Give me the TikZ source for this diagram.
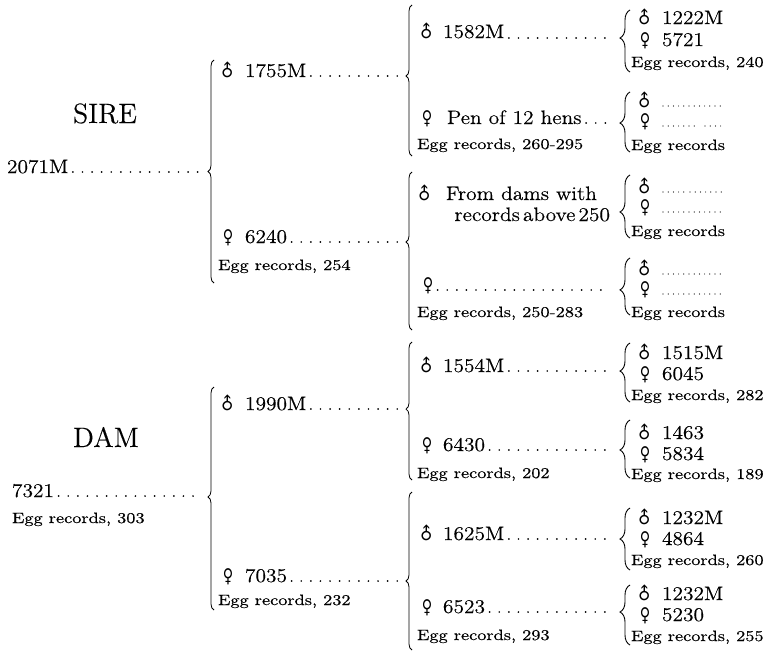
\documentclass[tikz,border=0pt]{standalone}
\usepackage{fontspec}
\usetikzlibrary{decorations.pathreplacing}
\newfontfamily\numf[FakeStretch=1.1,FakeBold=0.3]{lmroman12-regular.otf}
\newfontfamily\eggf[FakeStretch=1.22,FakeBold=0.4]{lmroman10-regular.otf}
\newfontfamily\bigf[FakeBold=0.2]{lmroman12-regular.otf}
\newfontfamily\symf{DejaVu Sans}
\newcommand\MS{\makebox[10pt][c]{\smash{\symf\fontsize{17pt}{17pt}\selectfont\rotatebox[origin=c]{45}{♂}}}}
\newcommand\FS{\makebox[10pt][c]{\smash{\symf\fontsize{19pt}{19pt}\selectfont\scalebox{0.75}[1]{♀}}}}
\tikzset{
  lbl/.style={anchor=base west, inner sep=0pt, outer sep=0pt},
  num/.style={lbl, font=\numf\fontsize{19.5pt}{21pt}\selectfont},
  egg/.style={lbl, font=\eggf\fontsize{15pt}{16pt}\selectfont},
  title/.style={lbl, font=\bigf\fontsize{28pt}{30pt}\selectfont},
  leader/.style={line width=1.9pt, line cap=round, dash pattern=on 0pt off 9.6pt, dash phase=5pt},
  fine/.style={line width=1.2pt, line cap=round, dash pattern=on 0pt off 5.2pt},
  bbrace/.style={decorate, decoration={brace, amplitude=6pt, aspect=#1}, line width=0.8pt},
  bbrace/.default=0.5,
  sbrace/.style={decorate, decoration={brace, amplitude=10pt, aspect=#1}, line width=0.9pt},
  sbrace/.default=0.5,
}
\begin{document}
\begin{tikzpicture}[x=1pt,y=-1pt]
\path[use as bounding box] (0,0) rectangle (768,653);

% ---------- level 0 ----------
\node[title] (sire) at (73,123) {SIRE};
\node[num] (n2071) at (7,173) {2071M};
\node[title] (dam) at (73,447) {DAM};
\node[num] (n7321) at (12,497) {7321};
\node[egg] (e303) at (12,523) {Egg records, 303};

\draw[bbrace=0.5] (214,283) -- (214,60);
\coordinate (tS) at (208,172);
\draw[bbrace=0.507] (214,610) -- (214,387);
\coordinate (tD) at (208,496);
\draw[leader] (n2071.east |- tS) -- ([xshift=-6pt]tS);
\draw[leader] (n7321.east |- tD) -- ([xshift=-6pt]tD);

% ---------- level 1 ----------
\node[num] (n1755) at (223,77) {\MS\hspace{12pt}1755M};
\node[num] (n6240) at (223,243) {\FS\hspace{12pt}6240};
\node[egg] (e254) at (218,270) {Egg records, 254};
\node[num] (n1990) at (223,410) {\MS\hspace{12pt}1990M};
\node[num] (n7035) at (223,582) {\FS\hspace{12pt}7035};
\node[egg] (e232) at (218,605) {Egg records, 232};

\draw[bbrace=0.53] (412,156) -- (412,5);
\coordinate (tA) at (406,76);
\draw[bbrace=0.557] (412,330) -- (412,172);
\coordinate (tB) at (406,242);
\draw[bbrace=0.514] (412,480) -- (412,342);
\coordinate (tC) at (406,409);
\draw[bbrace=0.437] (412,650) -- (412,492);
\coordinate (tDD) at (406,581);
\draw[leader] (n1755.east |- tA) -- ([xshift=-7pt]tA);
\draw[leader] (n6240.east |- tB) -- ([xshift=-7pt]tB);
\draw[leader] (n1990.east |- tC) -- ([xshift=-7pt]tC);
\draw[leader] (n7035.east |- tDD) -- ([xshift=-7pt]tDD);

% ---------- level 2 ----------
\node[num] (n1582) at (422,38) {\MS\hspace{11pt}1582M};
\node[num] (npen) at (422,124) {\FS\hspace{15pt}Pen of 12 hens};
\node[egg] (e260) at (417,149) {Egg records, 260-295};
\node[num] (nfrom) at (420,200) {\MS\hspace{16pt}From dams with};
\node[num, anchor=base east] (nfrom2) at (610,221) {records\hspace{3pt}above\hspace{3pt}250};
\node[num] (nblank) at (423,291) {\FS};
\node[egg] (e250) at (417,317) {Egg records, 250-283};
\node[num] (n1554) at (422,372) {\MS\hspace{11pt}1554M};
\node[num] (n6430) at (422,451) {\FS\hspace{11pt}6430};
\node[egg] (e202) at (417,478) {Egg records, 202};
\node[num] (n1625) at (422,540) {\MS\hspace{11pt}1625M};
\node[num] (n6523) at (422,613) {\FS\hspace{11pt}6523};
\node[egg] (e293) at (417,640) {Egg records, 293};

\draw[sbrace=0.548] (630,72) -- (630,10);   \coordinate (ta) at (620,38);
\draw[sbrace=0.483] (630,152) -- (630,92);  \coordinate (tb) at (620,123);
\draw[sbrace=0.413] (630,238) -- (630,175); \coordinate (tc) at (620,212);
\draw[sbrace=0.44] (630,315) -- (630,258);  \coordinate (td) at (620,290);
\draw[sbrace=0.525] (630,402) -- (630,343); \coordinate (te) at (620,371);
\draw[sbrace=0.483] (630,478) -- (630,420); \coordinate (tf) at (620,450);
\draw[sbrace=0.5] (630,570) -- (630,508);   \coordinate (tg) at (620,539);
\draw[sbrace=0.55] (630,645) -- (630,585);  \coordinate (th) at (620,612);

\draw[leader] (n1582.east |- ta) -- ([xshift=-12pt]ta);
\draw[leader] (npen.east |- tb) -- ([xshift=-12pt]tb);
\draw[leader] (nblank.east |- td) -- ([xshift=-12pt]td);
\draw[leader] (n1554.east |- te) -- ([xshift=-12pt]te);
\draw[leader] (n6430.east |- tf) -- ([xshift=-12pt]tf);
\draw[leader] (n1625.east |- tg) -- ([xshift=-12pt]tg);
\draw[leader] (n6523.east |- th) -- ([xshift=-12pt]th);

% ---------- level 3 ----------
\node[num] (a1) at (640,24) {\MS\hspace{12pt}1222M};
\node[num] (a2) at (640,46) {\FS\hspace{12pt}5721};
\node[egg] (a3) at (631,67) {Egg records, 240};

\node[num] (b1) at (640,107) {\MS};
\node[num] (b2) at (640,127) {\FS};
\node[egg] (b3) at (631,150) {Egg records};
\draw[fine] (663,106) -- (724,106);
\draw[fine] (663,126) -- (696,126);
\draw[fine] (705,126) -- (724,126);

\node[num] (c1) at (640,193) {\MS};
\node[num] (c2) at (640,213) {\FS};
\node[egg] (c3) at (631,236) {Egg records};
\draw[fine] (663,192) -- (684,192);
\draw[fine] (690,192) -- (724,192);
\draw[fine] (663,212) -- (724,212);

\node[num] (d1) at (640,275) {\MS};
\node[num] (d2) at (640,295) {\FS};
\node[egg] (d3) at (631,317) {Egg records};
\draw[fine] (663,274) -- (724,274);
\draw[fine] (663,294) -- (724,294);

\node[num] (e1) at (640,359) {\MS\hspace{12pt}1515M};
\node[num] (e2) at (640,380) {\FS\hspace{12pt}6045};
\node[egg] (e3) at (631,400) {Egg records, 282};

\node[num] (f1) at (640,439) {\MS\hspace{12pt}1463};
\node[num] (f2) at (640,460) {\FS\hspace{12pt}5834};
\node[egg] (f3) at (631,479) {Egg records, 189};

\node[num] (g1) at (640,524) {\MS\hspace{12pt}1232M};
\node[num] (g2) at (640,545) {\FS\hspace{12pt}4864};
\node[egg] (g3) at (631,565) {Egg records, 260};

\node[num] (h1) at (640,600) {\MS\hspace{12pt}1232M};
\node[num] (h2) at (640,621) {\FS\hspace{12pt}5230};
\node[egg] (h3) at (631,641) {Egg records, 255};
\end{tikzpicture}
\end{document}
